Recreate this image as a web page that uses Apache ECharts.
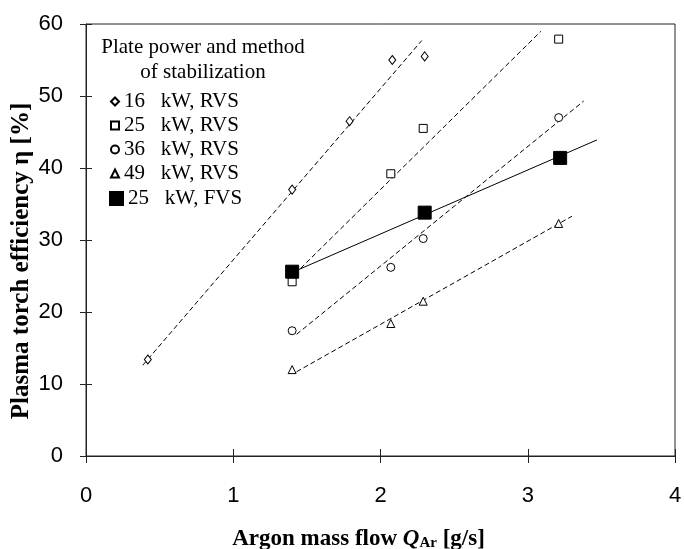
<!DOCTYPE html>
<html>
<head>
<meta charset="utf-8" />
<title>Plasma torch efficiency</title>
<style>
  html, body { margin: 0; padding: 0; background: #fff; }
  #chart { width: 684px; height: 549px; }
</style>
</head>
<body>
<div id="chart"></div>
<script src="https://cdn.jsdelivr.net/npm/echarts@6/dist/echarts.min.js"></script>
<script>
// measured points [argon mass flow g/s, efficiency %]
var pts16 = [[0.42, 13.4], [1.40, 37.0], [1.79, 46.5], [2.08, 55.0], [2.30, 55.5]];
var pts25 = [[1.40, 24.2], [2.07, 39.2], [2.29, 45.5], [3.21, 57.9]];
var pts36 = [[1.40, 17.4], [2.07, 26.2], [2.29, 30.2], [3.21, 47.0]];
var pts49 = [[1.40, 12.0], [2.07, 18.4], [2.29, 21.5], [3.21, 32.3]];
var ptsFVS = [[1.40, 25.6], [2.30, 33.8], [3.22, 41.4]];

// fitted lines, end points
var fit16 = [[0.385, 12.6], [2.28, 57.7]];
var fit25 = [[1.38, 24.5], [3.09, 59.0]];
var fit36 = [[1.43, 16.9], [3.38, 49.3]];
var fit49 = [[1.43, 11.7], [3.30, 33.3]];
var fitFVS = [[1.40, 25.5], [3.47, 43.9]];

var names = ['16   kW, RVS', '25   kW, RVS', '36   kW, RVS', '49   kW, RVS', '25   kW, FVS'];
var xTicks = [0, 1, 2, 3, 4];
var yTicks = [0, 10, 20, 30, 40, 50, 60];

var serif = '"Liberation Serif", "Times New Roman", serif';
var sans = '"Liberation Sans", Arial, sans-serif';

var chart = echarts.init(document.getElementById('chart'));

function marker(name, data, symbol, size, fill) {
  return {
    name: name,
    type: 'scatter',
    data: data,
    symbol: symbol,
    symbolSize: size,
    itemStyle: { color: fill, borderColor: '#000', borderWidth: 1, opacity: 1 },
    z: 5
  };
}
function fitLine(data, dashed) {
  return {
    type: 'line',
    data: data,
    showSymbol: false,
    silent: true,
    lineStyle: { color: '#000', width: 1, type: dashed ? [5, 3] : 'solid' },
    z: 3
  };
}

var legendText = { fontFamily: serif, fontSize: 21, color: '#000', lineHeight: 21 };

var option = {
  backgroundColor: '#fff',
  animation: false,
  title: {
    text: 'Plate power and method\nof stabilization',
    left: 203,
    top: 35,
    padding: 0,
    textAlign: 'center',
    textStyle: { fontFamily: serif, fontSize: 21, fontWeight: 'normal', color: '#000', lineHeight: 25, align: 'center' }
  },
  legend: [{
    data: [names[0], names[1], names[2], names[3]],
    orient: 'vertical',
    left: 110,
    top: 91,
    padding: 0,
    itemWidth: 8,
    itemHeight: 8,
    itemGap: 3,
    textStyle: legendText
  }, {
    data: [names[4]],
    orient: 'vertical',
    left: 109,
    top: 188,
    padding: 0,
    itemWidth: 13,
    itemHeight: 13,
    textStyle: legendText
  }],
  grid: {
    left: 86, right: 9, top: 24, bottom: 93,
    outerBoundsMode: 'none',
    containLabel: false,
    show: true, borderColor: '#222', borderWidth: 1
  },
  xAxis: [{
    type: 'value',
    min: xTicks[0], max: xTicks[xTicks.length - 1], interval: 1,
    name: 'Argon mass flow {i|Q}{sub|Ar} [g/s]',
    nameLocation: 'middle',
    nameGap: 72,
    nameMoveOverlap: false,
    nameTextStyle: {
      fontFamily: serif, fontSize: 23, fontWeight: 'bold', color: '#000',
      padding: [0, 44, 0, 0],
      rich: {
        i: { fontFamily: serif, fontSize: 23, fontWeight: 'bold', fontStyle: 'italic', color: '#000' },
        sub: { fontFamily: serif, fontSize: 15, fontWeight: 'bold', color: '#000', verticalAlign: 'bottom', padding: [7, 0, 0, 0] }
      }
    },
    axisLine: { onZero: false, lineStyle: { color: '#222', width: 1 } },
    axisTick: { length: 7, lineStyle: { color: '#222' } },
    axisLabel: { fontFamily: sans, fontSize: 22, color: '#000', margin: 29 },
    splitLine: { show: false }
  }, {
    type: 'value',
    position: 'bottom',
    min: xTicks[0], max: xTicks[xTicks.length - 1], interval: 1,
    axisLine: { show: false },
    axisTick: { inside: true, length: 7, lineStyle: { color: '#222' } },
    axisLabel: { show: false },
    splitLine: { show: false }
  }],
  yAxis: [{
    type: 'value',
    min: yTicks[0], max: yTicks[yTicks.length - 1], interval: 10,
    name: 'Plasma torch efficiency η [%]',
    nameLocation: 'middle',
    nameGap: 52,
    nameMoveOverlap: false,
    nameTextStyle: {
      fontFamily: serif, fontSize: 25, fontWeight: 'bold', color: '#000',
      padding: [0, 42, 0, 0]
    },
    axisLine: { onZero: false, lineStyle: { color: '#222', width: 1 } },
    axisTick: { length: 6, lineStyle: { color: '#222' } },
    axisLabel: { fontFamily: sans, fontSize: 22, color: '#000', margin: 23 },
    splitLine: { show: false }
  }, {
    type: 'value',
    position: 'left',
    min: yTicks[0], max: yTicks[yTicks.length - 1], interval: 10,
    axisLine: { show: false },
    axisTick: { inside: true, length: 6, lineStyle: { color: '#222' } },
    axisLabel: { show: false },
    splitLine: { show: false }
  }],
  series: [
    fitLine(fit16, true),
    fitLine(fit25, true),
    fitLine(fit36, true),
    fitLine(fit49, true),
    fitLine(fitFVS, false),
    marker(names[0], pts16, 'diamond', [7, 9], '#fff'),
    marker(names[1], pts25, 'rect', 8, '#fff'),
    marker(names[2], pts36, 'circle', 8, '#fff'),
    marker(names[3], pts49, 'triangle', 8, '#fff'),
    marker(names[4], ptsFVS, 'rect', 13, '#000')
  ]
};

chart.setOption(option);
</script>
</body>
</html>
